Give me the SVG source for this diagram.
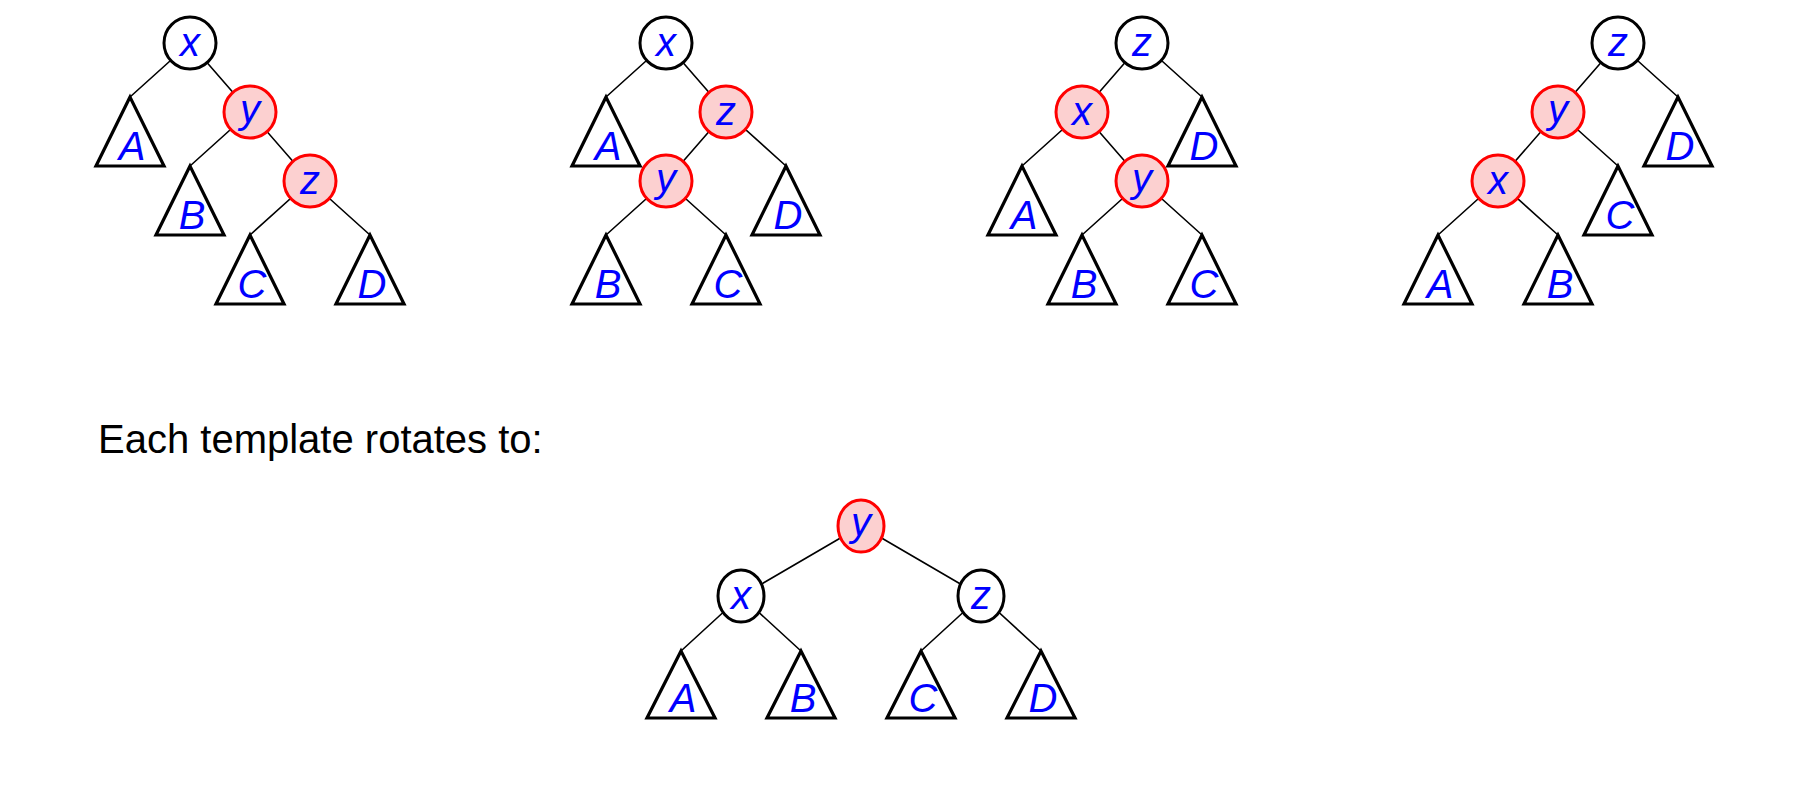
<svg xmlns="http://www.w3.org/2000/svg" width="1802" height="785" viewBox="0 0 1802 785">
<style>
.e{stroke:#000;stroke-width:1.6;fill:none}
.b{fill:#fff;stroke:#000;stroke-width:3}
.r{fill:#fcd0d0;stroke:#f00;stroke-width:3}
.t{fill:#fff;stroke:#000;stroke-width:3.2}
.l{font-family:"Liberation Sans",Arial,sans-serif;font-style:italic;fill:#00f;font-size:40px;text-anchor:middle}
.h{font-family:"Liberation Sans",Arial,sans-serif;fill:#000;font-size:40px}
</style>
<rect width="1802" height="785" fill="#fff"/>
<g id="connectors">
<path class="e" d="M190,43L130,97M190,43L250,112M250,112L190,166M250,112L310,181M310,181L250,235M310,181L370,235"/>
<path class="e" d="M666,43L606,97M666,43L726,112M726,112L666,181M726,112L786,166M666,181L606,235M666,181L726,235"/>
<path class="e" d="M1142,43L1082,112M1142,43L1202,97M1082,112L1022,166M1082,112L1142,181M1142,181L1082,235M1142,181L1202,235"/>
<path class="e" d="M1618,43L1558,112M1618,43L1678,97M1558,112L1498,181M1558,112L1618,166M1498,181L1438,235M1498,181L1558,235"/>
<path class="e" d="M861,526L741,596M861,526L981,596M741,596L681,651M741,596L801,651M981,596L921,651M981,596L1041,651"/>
</g>
<g id="t1x"><circle class="b" cx="190" cy="43" r="26"/><text class="l" x="190" y="56">x</text></g>
<g id="t1y"><circle class="r" cx="250" cy="112" r="26"/><text class="l" x="250" y="123">y</text></g>
<g id="t1z"><circle class="r" cx="310" cy="181" r="26"/><text class="l" x="310" y="194">z</text></g>
<g id="t1A"><path class="t" d="M130,97L96,166H164Z"/><text class="l" x="132" y="160" font-size="42">A</text></g>
<g id="t1B"><path class="t" d="M190,166L156,235H224Z"/><text class="l" x="192" y="229">B</text></g>
<g id="t1C"><path class="t" d="M250,235L216,304H284Z"/><text class="l" x="252" y="298">C</text></g>
<g id="t1D"><path class="t" d="M370,235L336,304H404Z"/><text class="l" x="372" y="298">D</text></g>

<g id="t2x"><circle class="b" cx="666" cy="43" r="26"/><text class="l" x="666" y="56">x</text></g>
<g id="t2z"><circle class="r" cx="726" cy="112" r="26"/><text class="l" x="726" y="125">z</text></g>
<g id="t2y"><circle class="r" cx="666" cy="181" r="26"/><text class="l" x="666" y="192">y</text></g>
<g id="t2A"><path class="t" d="M606,97L572,166H640Z"/><text class="l" x="608" y="160">A</text></g>
<g id="t2D"><path class="t" d="M786,166L752,235H820Z"/><text class="l" x="788" y="229">D</text></g>
<g id="t2B"><path class="t" d="M606,235L572,304H640Z"/><text class="l" x="608" y="298">B</text></g>
<g id="t2C"><path class="t" d="M726,235L692,304H760Z"/><text class="l" x="728" y="298">C</text></g>

<g id="t3z"><circle class="b" cx="1142" cy="43" r="26"/><text class="l" x="1142" y="56">z</text></g>
<g id="t3x"><circle class="r" cx="1082" cy="112" r="26"/><text class="l" x="1082" y="125">x</text></g>
<g id="t3y"><circle class="r" cx="1142" cy="181" r="26"/><text class="l" x="1142" y="192">y</text></g>
<g id="t3D"><path class="t" d="M1202,97L1168,166H1236Z"/><text class="l" x="1204" y="160">D</text></g>
<g id="t3A"><path class="t" d="M1022,166L988,235H1056Z"/><text class="l" x="1024" y="229">A</text></g>
<g id="t3B"><path class="t" d="M1082,235L1048,304H1116Z"/><text class="l" x="1084" y="298">B</text></g>
<g id="t3C"><path class="t" d="M1202,235L1168,304H1236Z"/><text class="l" x="1204" y="298">C</text></g>

<g id="t4z"><circle class="b" cx="1618" cy="43" r="26"/><text class="l" x="1618" y="56">z</text></g>
<g id="t4y"><circle class="r" cx="1558" cy="112" r="26"/><text class="l" x="1558" y="123">y</text></g>
<g id="t4x"><circle class="r" cx="1498" cy="181" r="26"/><text class="l" x="1498" y="194">x</text></g>
<g id="t4D"><path class="t" d="M1678,97L1644,166H1712Z"/><text class="l" x="1680" y="160">D</text></g>
<g id="t4C"><path class="t" d="M1618,166L1584,235H1652Z"/><text class="l" x="1620" y="229">C</text></g>
<g id="t4A"><path class="t" d="M1438,235L1404,304H1472Z"/><text class="l" x="1440" y="298">A</text></g>
<g id="t4B"><path class="t" d="M1558,235L1524,304H1592Z"/><text class="l" x="1560" y="298">B</text></g>

<text class="h" x="98" y="453">Each template rotates to:</text>

<g id="by"><ellipse class="r" cx="861" cy="526" rx="23" ry="26"/><text class="l" x="861" y="536">y</text></g>
<g id="bx"><ellipse class="b" cx="741" cy="596" rx="23" ry="26"/><text class="l" x="741" y="609">x</text></g>
<g id="bz"><ellipse class="b" cx="981" cy="596" rx="23" ry="26"/><text class="l" x="981" y="609">z</text></g>
<g id="bA"><path class="t" d="M681,651L647,718H715Z"/><text class="l" x="683" y="712">A</text></g>
<g id="bB"><path class="t" d="M801,651L767,718H835Z"/><text class="l" x="803" y="712">B</text></g>
<g id="bC"><path class="t" d="M921,651L887,718H955Z"/><text class="l" x="923" y="712">C</text></g>
<g id="bD"><path class="t" d="M1041,651L1007,718H1075Z"/><text class="l" x="1043" y="712">D</text></g>
</svg>
